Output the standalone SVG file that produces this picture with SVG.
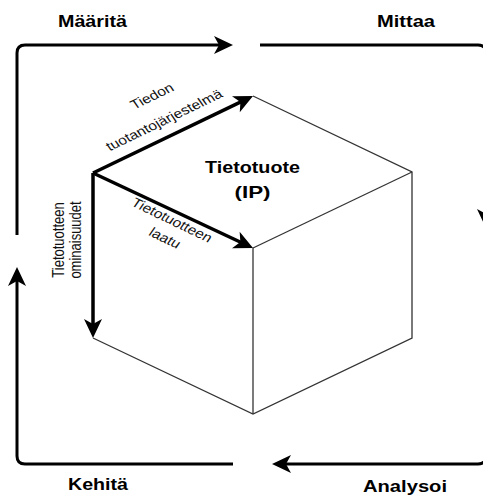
<svg xmlns="http://www.w3.org/2000/svg" width="483" height="499" viewBox="0 0 483 499">
  <style>
    .title { font-family: "Liberation Sans", Arial, sans-serif; font-weight: bold; font-size: 17px; fill: #000; text-anchor: middle; }
    .lbl { font-family: "Liberation Sans", Arial, sans-serif; font-size: 13px; fill: #111; text-anchor: middle; }
    .loop { fill: none; stroke: #000; stroke-width: 3; marker-end: url(#arr); }
    .axis { fill: none; stroke: #000; stroke-width: 3.5; marker-end: url(#arr); }
    .edge { fill: none; stroke: #333; stroke-width: 1.3; stroke-linejoin: miter; }
  </style>
  <defs>
    <marker id="arr" markerUnits="userSpaceOnUse" markerWidth="20" markerHeight="18" refX="13" refY="9" orient="auto" overflow="visible">
      <path d="M0,0 L19,9 L0,18 L5,9 Z" fill="#000"/>
    </marker>
  </defs>
  <rect width="483" height="499" fill="#fff"/>

  <g id="connectors">
    <path class="loop" d="M17,235 V53 Q17,45 25,45 H227"/>
    <path class="loop" d="M260,45 H478 Q486,45 486,53 V222"/>
    <path class="loop" d="M486,250 V456 Q486,464 478,464 H278"/>
    <path class="loop" d="M233,464 H25 Q17,464 17,456 V273"/>
  </g>

  <g id="cube">
    <path class="edge" d="M253,96 L412,172 L412,338 L253,414 L93,338"/>
    <path class="edge" d="M253,248 L412,172"/>
    <path class="edge" d="M253,248 L253,414"/>
    <path class="axis" d="M93,173 L247.6,98.6"/>
    <path class="axis" d="M93,173 L247.6,245.5"/>
    <path class="axis" d="M93,173 L93,332"/>
    <text class="title" x="252.5" y="173" font-size="19" textLength="95" lengthAdjust="spacingAndGlyphs">Tietotuote</text>
    <text class="title" x="252.5" y="198" font-size="19" textLength="36" lengthAdjust="spacingAndGlyphs">(IP)</text>
  </g>

  <g id="label-tiedon">
    <text class="lbl" transform="translate(152,96) scale(1.2,1) rotate(-30)" y="4.5">Tiedon</text>
    <text class="lbl" transform="translate(164,120) scale(1.2,1) rotate(-30)" y="4.5">tuotantojärjestelmä</text>
  </g>
  <g id="label-laatu">
    <text class="lbl" transform="translate(172,220) scale(1.2,1) rotate(30)" y="4.5">Tietotuotteen</text>
    <text class="lbl" transform="translate(165,238) scale(1.2,1) rotate(30)" y="4.5">laatu</text>
  </g>
  <g id="label-ominaisuudet">
    <text class="lbl" font-size="12" transform="translate(59,240) scale(1.2,1) rotate(-90)" y="4.3">Tietotuotteen</text>
    <text class="lbl" font-size="12" transform="translate(76,240) scale(1.2,1) rotate(-90)" y="4.3">ominaisuudet</text>
  </g>

  <g id="stage-maarita"><text class="title" x="92.5" y="27" textLength="69" lengthAdjust="spacingAndGlyphs">Määritä</text></g>
  <g id="stage-mittaa"><text class="title" x="406" y="27" textLength="58" lengthAdjust="spacingAndGlyphs">Mittaa</text></g>
  <g id="stage-kehita"><text class="title" x="98" y="490" textLength="60" lengthAdjust="spacingAndGlyphs">Kehitä</text></g>
  <g id="stage-analysoi"><text class="title" x="405" y="492" textLength="84" lengthAdjust="spacingAndGlyphs">Analysoi</text></g>
</svg>
